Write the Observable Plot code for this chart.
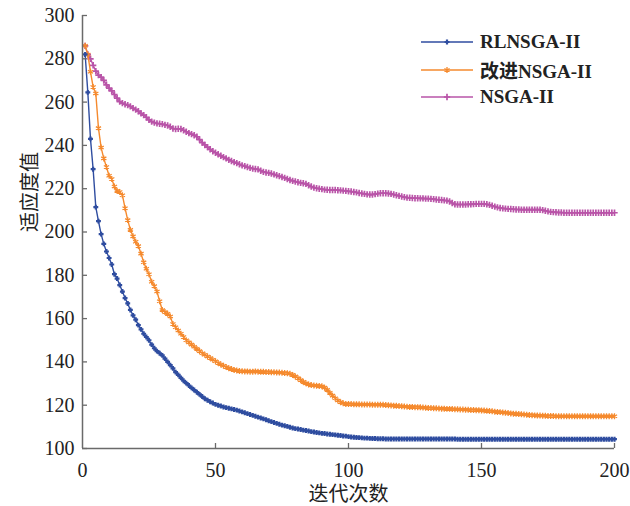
<!DOCTYPE html>
<html><head><meta charset="utf-8">
<script src="https://cdn.jsdelivr.net/npm/d3@7"></script>
<script src="https://cdn.jsdelivr.net/npm/@observablehq/plot@0.6"></script>
<style>
body{margin:0;background:#fff;}
#wrap{position:relative;width:630px;height:506px;}
#legend{position:absolute;left:421px;top:28px;font-family:"Liberation Serif","Noto Sans CJK SC",serif;font-weight:bold;font-size:19px;color:#222;}
.row{display:flex;align-items:center;height:27.8px;white-space:nowrap;}
.row svg{margin-right:7px;}
</style></head>
<body><div id="wrap"><div id="legend"></div></div>
<script>
const seriesNames = ["RLNSGA-II", "改进NSGA-II", "NSGA-II"];
const seriesColors = ["#2f4da0", "#f58a2e", "#b954a8"];
const xTicks = [0, 50, 100, 150, 200];
const yTicks = [100, 120, 140, 160, 180, 200, 220, 240, 260, 280, 300];
const xTitle = "迭代次数";
const yTitle = "适应度值";
const iterations = d3.range(1, 201);

const rlnsga = [
282,264.5,243,229,211.5,205,199,194.5,191,188,
185,180.5,178.5,175.5,172.5,169.5,167,164,161.5,159.5,
157,155,153,151.5,150,148,146.3,145,144,143,
141.5,140,138.5,137,135.3,134,132.6,131.3,130.2,129.1,
128,127,126,125,124,123,122.3,121.6,121,120.4,
120,119.6,119.2,118.9,118.6,118.3,118,117.7,117.3,116.9,
116.5,116.1,115.7,115.3,114.9,114.5,114.1,113.7,113.3,112.8,
112.4,112,111.6,111.2,110.8,110.5,110.2,109.8,109.5,109.2,
109,108.8,108.5,108.3,108.1,107.8,107.6,107.4,107.2,107,
106.9,106.7,106.6,106.4,106.3,106.1,106,105.8,105.7,105.5,
105.3,105.2,105.1,105,104.9,104.8,104.8,104.7,104.6,104.6,
104.5,104.5,104.5,104.4,104.4,104.4,104.4,104.4,104.4,104.4,
104.4,104.4,104.4,104.4,104.4,104.4,104.4,104.4,104.4,104.4,
104.4,104.4,104.4,104.4,104.4,104.4,104.4,104.4,104.4,104.4,
104.3,104.3,104.3,104.3,104.3,104.3,104.3,104.3,104.3,104.3,
104.3,104.3,104.3,104.3,104.3,104.3,104.3,104.3,104.3,104.3,
104.3,104.3,104.3,104.3,104.3,104.3,104.3,104.3,104.3,104.3,
104.3,104.3,104.3,104.3,104.3,104.3,104.3,104.3,104.3,104.3,
104.3,104.3,104.3,104.3,104.3,104.3,104.3,104.3,104.3,104.3,
104.3,104.3,104.3,104.3,104.3,104.3,104.3,104.3,104.3,104.3
];

const improved = [
286,282,274,267,264,248,239,234,230,226,
224.5,221,219,218.5,217,211,205.5,201,198,195.5,
193.5,190,186,183,180.5,177,175,172.5,168,164,
163,162.2,161,157.5,156,154.5,153,151.5,150,149,
148,147,146,145,144,143.3,142.5,141.8,141,140.3,
139.5,138.8,138.2,137.6,137.1,136.7,136.3,136,135.8,135.7,
135.6,135.6,135.5,135.5,135.6,135.5,135.4,135.4,135.3,135.3,
135.2,135.2,135.1,135.1,135,134.9,134.8,134.5,134,133.3,
132.5,131.6,130.8,130.1,129.6,129.3,129.1,129,128.9,128.7,
128.1,127.1,125.7,124.4,123.2,122.2,121.4,120.9,120.6,120.5,
120.5,120.4,120.4,120.4,120.3,120.3,120.3,120.3,120.2,120.2,
120.2,120.2,120.2,120.1,120,119.9,119.8,119.7,119.6,119.5,
119.4,119.3,119.2,119.2,119.1,119.1,119,118.9,118.8,118.7,
118.7,118.6,118.6,118.5,118.4,118.4,118.3,118.3,118.2,118.1,
118.1,118,118,117.9,117.9,117.8,117.8,117.7,117.7,117.6,
117.5,117.4,117.3,117.2,117,116.9,116.8,116.6,116.5,116.4,
116.2,116.1,116,115.9,115.8,115.7,115.6,115.5,115.4,115.3,
115.2,115.2,115.1,115.1,115,115,115,114.9,114.9,114.9,
114.9,114.9,114.9,114.9,114.9,114.9,114.9,114.9,114.9,114.9,
114.9,114.9,114.9,114.9,114.9,114.9,114.9,114.9,114.9,114.9
];

const nsga = [
286,282,280,277,274.3,272.5,271.5,270,268,266.5,
265.2,263.5,261.8,260.2,259.5,259,258.6,258,257.2,256.5,
255.8,254.8,254,253,251.8,251,250.5,250.2,250,249.8,
249.5,249.2,248.6,247.8,247.6,247.7,247.6,247,246.3,245.7,
245.2,244.7,244,242.7,241.3,240.2,239.2,238.2,237.3,236.6,
235.9,235.2,234.6,234,233.3,232.8,232.3,231.8,231.3,230.8,
230.4,230,229.6,229.3,229.1,228.9,228.3,227.8,227.5,227.3,
227,226.6,226.2,225.8,225.4,225,224.5,224,223.6,223.3,
223,222.7,222.5,222.2,221.6,221,220.5,220.2,220,219.8,
219.6,219.5,219.4,219.4,219.4,219.3,219.2,219.1,219,218.8,
218.7,218.5,218.3,218,217.8,217.6,217.4,217.3,217.3,217.5,
217.7,217.9,217.9,217.9,217.8,217.6,217.3,217,216.7,216.4,
216.1,215.9,215.8,215.7,215.6,215.6,215.5,215.5,215.4,215.4,
215.3,215.2,215,214.9,214.8,214.6,214.5,214.1,213.4,212.8,
212.7,212.7,212.7,212.7,212.8,212.8,212.9,213,213,213,
213,212.8,212.5,212.1,211.7,211.4,211.1,210.9,210.8,210.7,
210.6,210.5,210.4,210.4,210.3,210.3,210.3,210.3,210.3,210.3,
210.3,210.3,210.1,209.8,209.5,209.3,209.2,209.1,209,209,
208.9,208.9,208.9,208.9,208.9,208.9,208.9,208.9,208.9,208.9,
208.9,208.9,208.9,208.9,208.9,208.9,208.9,208.9,208.9,208.9
];

const seriesValues = [rlnsga, improved, nsga];
const markerStyles = [
  {symbol: "plus", r: 1.7, strokeWidth: 2.2},
  {symbol: "asterisk", r: 2.8, strokeWidth: 1.3},
  {symbol: "plus", r: 2.2, strokeWidth: 1.7}
];

const W = 630, H = 506, mL = 82, mR = 16, mT = 15, mB = 58;
const plotW = W - mL - mR, plotH = H - mT - mB;
const axisColor = "#6a6a6a";
const fontFam = '"Liberation Serif","Noto Sans CJK SC",serif';

const marks = [];
[2, 1, 0].forEach(k => {
  const rows = iterations.map((x, i) => ({x, y: seriesValues[k][i]}));
  marks.push(Plot.line(rows, {x: "x", y: "y", stroke: seriesColors[k], strokeWidth: 1.4}));
  marks.push(Plot.dot(rows, {x: "x", y: "y", stroke: seriesColors[k], fill: "none",
    symbol: markerStyles[k].symbol, r: markerStyles[k].r, strokeWidth: markerStyles[k].strokeWidth}));
});

const chart = Plot.plot({
  width: W, height: H,
  marginLeft: mL, marginRight: mR, marginTop: mT, marginBottom: mB,
  style: {fontFamily: fontFam, fontSize: "20px", color: "#222", background: "#fff"},
  x: {domain: [0, 200]},
  y: {domain: [100, 300]},
  marks: [
    ...marks,
    Plot.ruleX([0], {stroke: axisColor, strokeWidth: 1.5}),
    Plot.ruleY([100], {stroke: axisColor, strokeWidth: 1.5}),
    Plot.tickY(yTicks, {y: d => d, insetRight: plotW - 5, stroke: axisColor, strokeWidth: 1.3}),
    Plot.tickX(xTicks.filter(d => d > 0), {x: d => d, insetTop: plotH - 5, stroke: axisColor, strokeWidth: 1.3}),
    Plot.axisY({ticks: yTicks, tickSize: 0, tickPadding: 8, label: null, fontSize: 20, tickFormat: d => d}),
    Plot.axisX({ticks: xTicks, tickSize: 0, tickPadding: 14, label: null, fontSize: 20, tickFormat: d => d}),
    Plot.text([xTitle], {text: d => d, frameAnchor: "bottom", lineAnchor: "middle", dy: 46, fontSize: 20, fill: "#222"}),
    Plot.text([yTitle], {text: d => d, frameAnchor: "left", lineAnchor: "middle", dx: -52, rotate: -90, fontSize: 20, fill: "#222"})
  ]
});
document.getElementById("wrap").prepend(chart);

const legend = d3.select("#legend");
seriesNames.forEach((name, k) => {
  const row = legend.append("div").attr("class", "row");
  const svg = row.append("svg").attr("width", 52).attr("height", 12);
  svg.append("line").attr("x1", 0).attr("x2", 52).attr("y1", 6).attr("y2", 6)
    .attr("stroke", seriesColors[k]).attr("stroke-width", 1.6);
  const sym = {plus: d3.symbolPlus, asterisk: d3.symbolAsterisk}[markerStyles[k].symbol];
  const r = markerStyles[k].r;
  svg.append("path").attr("transform", "translate(26,6)")
    .attr("d", d3.symbol(sym, Math.PI * r * r)())
    .attr("fill", "none").attr("stroke", seriesColors[k]).attr("stroke-width", markerStyles[k].strokeWidth);
  row.append("span").text(name);
});
</script>
</body></html>
